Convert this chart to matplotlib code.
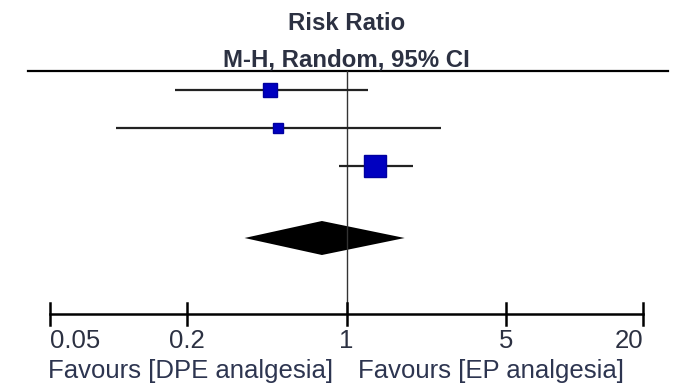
import matplotlib
matplotlib.use("Agg")
import matplotlib.pyplot as plt
import matplotlib.transforms as mtransforms
import numpy as np

# ---- data ----
study_rr = [0.46, 0.50, 1.34]
study_lo = [0.176, 0.097, 0.93]
study_hi = [1.24, 2.60, 1.95]
pooled_rr = 0.78
pooled_lo = 0.357
pooled_hi = 1.80
tick_values = [0.05, 0.2, 1, 5, 20]
tick_labels = ["0.05", "0.2", "1", "5", "20"]
title1 = "Risk Ratio"
title2 = "M-H, Random, 95% CI"
left_label = "Favours [DPE analgesia]"
right_label = "Favours [EP analgesia]"

# ---- style ----
plt.rcParams['font.family'] = ['Liberation Sans', 'DejaVu Sans']

W, H = 676, 388
fig = plt.figure(figsize=(W / 100, H / 100), dpi=100)
ax = fig.add_axes([0, 0, 1, 1])
ax.set_xscale('log')
ppd = (643 - 50) / (np.log10(20) - np.log10(0.05))
ax.set_xlim(10 ** (np.log10(0.05) - 50 / ppd), 10 ** (np.log10(20) + (W - 643) / ppd))
ax.set_ylim(H, 0)
ax.axis('off')

blend = mtransforms.blended_transform_factory(ax.transAxes, ax.transData)

study_y = [89.5, 127.5, 165.5]
marker_sz = [10.5, 7.5, 15.5]
diamond_y = 238
diamond_h = 17
top_y = 71
axis_y = 314
text_col = "#2c3142"
label_col = "#2d3550"

# top separator line
ax.plot([28 / W, 668 / W], [top_y, top_y], color="black", lw=1.6, transform=blend)
# null line
ax.plot([1, 1], [top_y, axis_y], color="#333333", lw=1.0)

# studies
for rr, lo, hi, y, ms in zip(study_rr, study_lo, study_hi, study_y, marker_sz):
    ax.plot([lo, hi], [y, y], color="#222222", lw=1.6, solid_capstyle='butt')
    ax.plot([rr], [y], marker='s', markersize=ms, color="#0000c0",
            markeredgecolor="#0000a0", linestyle='none')

# pooled diamond
ax.fill([pooled_lo, pooled_rr, pooled_hi, pooled_rr],
        [diamond_y, diamond_y - diamond_h, diamond_y, diamond_y + diamond_h],
        color="black", lw=0)

# x axis
ax.plot([tick_values[0], tick_values[-1]], [axis_y, axis_y], color="black", lw=1.8)
n = len(tick_values)
for i, (tv, tl) in enumerate(zip(tick_values, tick_labels)):
    ax.plot([tv, tv], [axis_y - 11, axis_y + 11], color="black", lw=1.8)
    ha = 'left' if i == 0 else ('right' if i == n - 1 else 'center')
    ax.text(tv, 348, tl, ha=ha, va='baseline', fontsize=18.5, color=text_col)

ax.text(1, 30, title1, ha='center', va='baseline', fontsize=17.3, fontweight='bold', color=text_col)
ax.text(1, 67, title2, ha='center', va='baseline', fontsize=17.3, fontweight='bold', color=text_col)
ax.text(48 / W, 378, left_label, ha='left', va='baseline', fontsize=18.5, color=label_col, transform=blend)
ax.text(358 / W, 378, right_label, ha='left', va='baseline', fontsize=18.5, color=label_col, transform=blend)

fig.savefig("out.png", dpi=100, facecolor="white")
